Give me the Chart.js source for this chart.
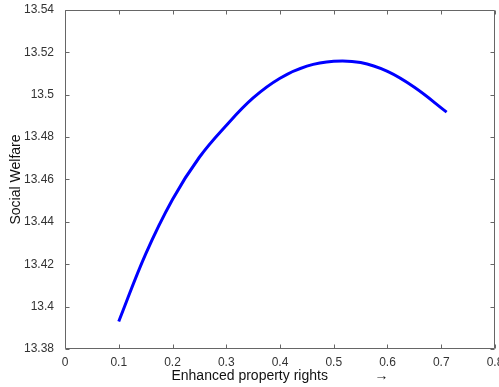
<!DOCTYPE html>
<html>
<head>
<meta charset="utf-8">
<script src="https://cdn.jsdelivr.net/npm/chart.js@4/dist/chart.umd.min.js"></script>
<style>
  html, body { margin: 0; padding: 0; background: #fff; }
  #wrap { width: 499px; height: 387px; }
</style>
</head>
<body>
<div id="wrap"><canvas id="chart" width="499" height="387"></canvas></div>
<script>
// values
const rights = [0.10, 0.15, 0.20, 0.25, 0.30, 0.35, 0.40, 0.45, 0.50, 0.55, 0.60, 0.65, 0.71];
const welfare = [13.393, 13.4248, 13.4506, 13.4705, 13.4855, 13.4985, 13.5078, 13.5135, 13.5158, 13.5152, 13.5110, 13.5035, 13.4918];

const xMin = 0, xMax = 0.8, xStep = 0.1;
const yMin = 13.38, yMax = 13.54, yStep = 0.02;

const fmtTick = v => String(+(+v).toFixed(2));

// box around the plot with small inward ticks on every side
const frame = {
  id: 'frame',
  afterDraw(chart) {
    const { ctx, chartArea: a, scales } = chart;
    const L = Math.round(a.left) + 0.5, R = Math.round(a.right) - 0.5;
    const T = Math.round(a.top) + 0.5, B = Math.round(a.bottom) - 0.5;
    ctx.save();
    ctx.strokeStyle = '#666';
    ctx.lineWidth = 1;
    ctx.beginPath();
    ctx.moveTo(L, T); ctx.lineTo(R, T); ctx.lineTo(R, B); ctx.lineTo(L, B); ctx.closePath();
    ctx.stroke();
    ctx.beginPath();
    scales.x.ticks.forEach(t => {
      const px = Math.round(scales.x.getPixelForValue(t.value)) + 0.5;
      ctx.moveTo(px, B); ctx.lineTo(px, B - 4);
      ctx.moveTo(px, T); ctx.lineTo(px, T + 4);
    });
    scales.y.ticks.forEach(t => {
      const py = Math.round(scales.y.getPixelForValue(t.value)) + 0.5;
      ctx.moveTo(L, py); ctx.lineTo(L + 4, py);
      ctx.moveTo(R, py); ctx.lineTo(R - 4, py);
    });
    ctx.stroke();
    ctx.restore();
  }
};

const tickFont = { family: 'Arial, "Liberation Sans", sans-serif', size: 12 };
const titleFont = { family: 'Arial, "Liberation Sans", sans-serif', size: 14 };

new Chart(document.getElementById('chart').getContext('2d'), {
  type: 'line',
  data: {
    datasets: [{
      data: rights.map((x, i) => ({ x, y: welfare[i] })),
      borderColor: '#0000ff',
      borderWidth: 3,
      pointRadius: 0,
      tension: 0.4,
      fill: false
    }]
  },
  options: {
    responsive: false,
    animation: false,
    layout: { padding: { top: 10, right: 4, bottom: 0, left: 0 } },
    plugins: { legend: { display: false }, tooltip: { enabled: false } },
    scales: {
      x: {
        type: 'linear',
        min: xMin, max: xMax,
        grid: { display: false, drawTicks: false },
        border: { display: false },
        ticks: { stepSize: xStep, padding: 6, color: '#333', font: tickFont, callback: fmtTick, maxRotation: 0 },
        title: { display: true, text: 'Enhanced property rights            \u2192', color: '#111', font: titleFont, padding: { top: 2, bottom: 2 } },
        afterFit(s) { s.height = 38; s.paddingLeft = 0; s.paddingRight = 0; }
      },
      y: {
        min: yMin, max: yMax,
        grid: { display: false, drawTicks: false },
        border: { display: false },
        ticks: { stepSize: yStep, padding: 11, color: '#333', font: tickFont, callback: fmtTick },
        title: { display: true, text: 'Social Welfare', color: '#111', font: titleFont, padding: { top: 8, bottom: 0 } },
        afterFit(s) { s.width = 65; s.paddingTop = 0; s.paddingBottom = 0; }
      }
    }
  },
  plugins: [frame]
});
</script>
</body>
</html>
